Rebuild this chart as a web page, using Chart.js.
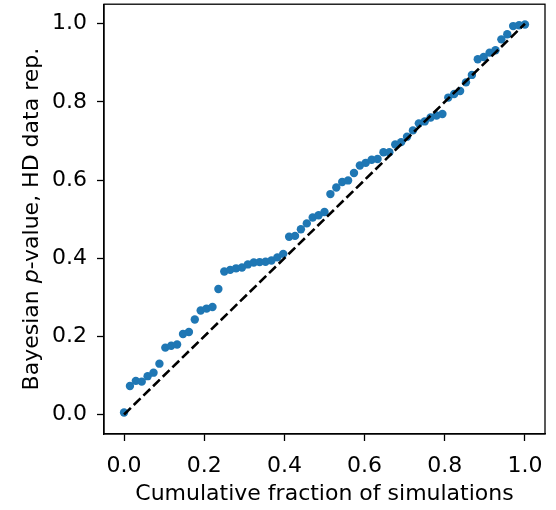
<!DOCTYPE html>
<html>
<head>
<meta charset="utf-8">
<script src="https://cdn.jsdelivr.net/npm/chart.js@4"></script>
<style>
  body { margin: 0; background: #fff; }
  #wrap { width: 556px; height: 510px; }
</style>
</head>
<body>
<div id="wrap"><canvas id="ppChart" width="556" height="510"></canvas></div>
<script>
// Sorted Bayesian p-values, one per simulation
const pValues = [
  0.005, 0.073, 0.086, 0.084, 0.098, 0.107, 0.130, 0.171, 0.176, 0.179,
  0.206, 0.211, 0.243, 0.266, 0.271, 0.275, 0.321, 0.366, 0.370, 0.374,
  0.376, 0.384, 0.389, 0.390, 0.391, 0.394, 0.402, 0.411, 0.455, 0.457,
  0.474, 0.489, 0.504, 0.510, 0.518, 0.564, 0.581, 0.595, 0.599, 0.618,
  0.637, 0.644, 0.652, 0.654, 0.671, 0.671, 0.691, 0.697, 0.711, 0.727,
  0.745, 0.750, 0.760, 0.765, 0.769, 0.811, 0.820, 0.828, 0.850, 0.869,
  0.909, 0.915, 0.926, 0.932, 0.960, 0.973, 0.994, 0.996, 0.998
];
// Cumulative fraction for each simulation
const cumFraction = pValues.map((_, i) => i / (pValues.length - 1));
// Reference 1:1 line
const diagX = [0, 1];
const diagY = [0, 1];
const xTicks = [0, 0.2, 0.4, 0.6, 0.8, 1.0];
const yTicks = [0, 0.2, 0.4, 0.6, 0.8, 1.0];

const FONT = "DejaVu Sans";
const SIZE = 22;
Chart.defaults.font.family = FONT;
Chart.defaults.font.size = SIZE;
Chart.defaults.color = "#000";

// Box around the axes
const frame = {
  id: "frame",
  afterDatasetsDraw(chart) {
    const { ctx, chartArea: a } = chart;
    ctx.save();
    ctx.strokeStyle = "#000";
    ctx.lineWidth = 1.3;
    ctx.strokeRect(a.left, a.top, a.right - a.left, a.bottom - a.top);
    ctx.restore();
  }
};

// Y axis title with an italic "p"
const yTitle = {
  id: "yTitle",
  afterDraw(chart) {
    const { ctx, chartArea: a } = chart;
    const parts = [["Bayesian ", ""], ["p", "italic "], ["-value, HD data rep.", ""]];
    ctx.save();
    ctx.fillStyle = "#000";
    ctx.textBaseline = "middle";
    let total = 0;
    parts.forEach(([t, s]) => { ctx.font = s + SIZE + "px '" + FONT + "'"; total += ctx.measureText(t).width; });
    ctx.translate(32, (a.top + a.bottom) / 2);
    ctx.rotate(-Math.PI / 2);
    let x = -total / 2;
    parts.forEach(([t, s]) => {
      ctx.font = s + SIZE + "px '" + FONT + "'";
      ctx.fillText(t, x, 0);
      x += ctx.measureText(t).width;
    });
    ctx.restore();
  }
};

new Chart(document.getElementById("ppChart"), {
  type: "scatter",
  data: {
    datasets: [
      {
        type: "line",
        data: diagX.map((x, i) => ({ x, y: diagY[i] })),
        borderColor: "#000",
        borderWidth: 2.6,
        borderDash: [9.5, 4],
        pointRadius: 0,
        fill: false,
        order: 0
      },
      {
        data: cumFraction.map((x, i) => ({ x, y: pValues[i] })),
        backgroundColor: "#1f77b4",
        borderWidth: 0,
        pointRadius: 4.2,
        order: 1
      }
    ]
  },
  options: {
    responsive: false,
    animation: false,
    layout: { padding: { left: 0, top: 4, right: 11, bottom: 0 } },
    plugins: { legend: { display: false }, tooltip: { enabled: false } },
    scales: {
      x: {
        type: "linear",
        min: -0.05,
        max: 1.05,
        afterBuildTicks: s => { s.ticks = xTicks.map(v => ({ value: v })); },
        afterFit: s => { s.height = 76; s.paddingLeft = 0; s.paddingRight = 0; },
        grid: { drawOnChartArea: false, color: "#000", tickLength: 7, tickWidth: 1.3 },
        border: { color: "#000", width: 1.3 },
        ticks: { padding: 12, maxRotation: 0, callback: v => v.toFixed(1) },
        title: { display: true, text: "Cumulative fraction of simulations", padding: { top: 0, bottom: 3 } }
      },
      y: {
        type: "linear",
        min: -0.05,
        max: 1.05,
        afterBuildTicks: s => { s.ticks = yTicks.map(v => ({ value: v })); },
        afterFit: s => { s.width = 104; s.paddingTop = 0; s.paddingBottom = 0; },
        grid: { drawOnChartArea: false, color: "#000", tickLength: 7, tickWidth: 1.3 },
        border: { color: "#000", width: 1.3 },
        ticks: { padding: 10, callback: v => v.toFixed(1) }
      }
    }
  },
  plugins: [frame, yTitle]
});
</script>
</body>
</html>
